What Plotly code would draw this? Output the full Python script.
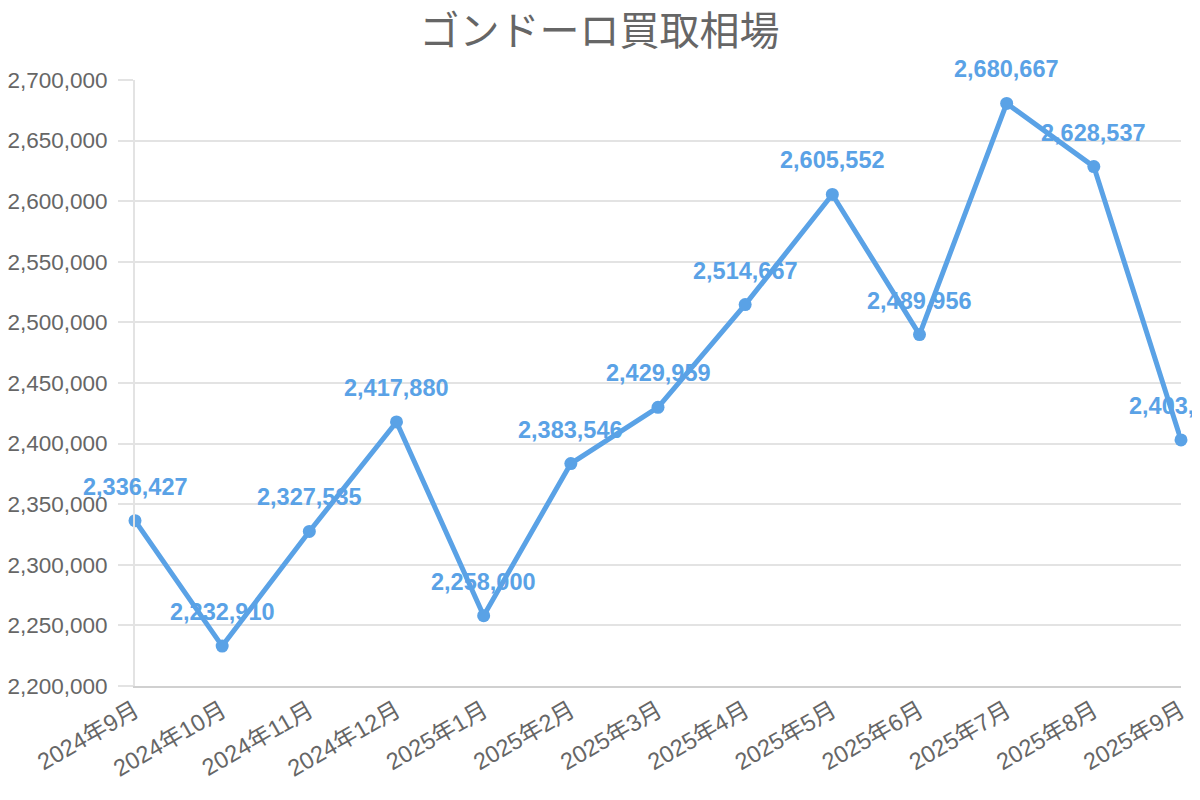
import plotly.graph_objects as go

# monthly buyback prices (yen)
months = ["2024年9月", "2024年10月", "2024年11月", "2024年12月", "2025年1月", "2025年2月",
          "2025年3月", "2025年4月", "2025年5月", "2025年6月", "2025年7月", "2025年8月", "2025年9月"]
prices = [2336427, 2232910, 2327535, 2417880, 2258000, 2383546,
          2429959, 2514667, 2605552, 2489956, 2680667, 2628537, 2403000]
ytick_vals = [2200000, 2250000, 2300000, 2350000, 2400000, 2450000,
              2500000, 2550000, 2600000, 2650000, 2700000]

blue = "#5aa2e6"
grey = "#666666"
font_family = "Liberation Sans, Noto Sans CJK JP, sans-serif"

fig = go.Figure()

fig.add_trace(go.Scatter(
    x=months,
    y=prices,
    mode="lines+markers",
    line=dict(color=blue, width=5),
    marker=dict(color=blue, size=13),
    showlegend=False,
    cliponaxis=False
))

# value labels above each point
for m, p in zip(months, prices):
    fig.add_annotation(
        x=m, y=p,
        text=f"{p:,}",
        showarrow=False,
        yshift=34,
        yanchor="middle",
        font=dict(family=font_family, size=23.5, color=blue, weight="bold")
    )

fig.update_layout(
    width=1200,
    height=800,
    paper_bgcolor="white",
    plot_bgcolor="white",
    margin=dict(l=127, r=27, t=72, b=122, autoexpand=False),
    title=dict(
        text="ゴンドーロ買取相場",
        x=0.493, xanchor="center",
        y=0.971, yref="container", yanchor="middle",
        font=dict(family="Noto Sans CJK JP", size=40, color=grey)
    ),
    font=dict(family=font_family, color=grey),
    xaxis=dict(
        type="category",
        range=[0, len(months) - 1],
        automargin=False,
        showgrid=False,
        showline=True,
        linecolor="#d0d0d0",
        linewidth=2,
        ticks="",
        tickangle=-30,
        tickfont=dict(family=font_family, size=23.5, color=grey),
        zeroline=False
    ),
    yaxis=dict(
        range=[2200000, 2700000],
        tickvals=ytick_vals,
        tickformat=",",
        automargin=False,
        showgrid=True,
        gridcolor="#e3e3e3",
        gridwidth=2,
        showline=True,
        linecolor="#e3e3e3",
        linewidth=2,
        ticks="outside",
        ticklen=15,
        tickcolor="#e3e3e3",
        tickwidth=2,
        ticklabelstandoff=6,
        tickfont=dict(family=font_family, size=22.5, color=grey),
        zeroline=False
    )
)

fig.write_html("out.html")
